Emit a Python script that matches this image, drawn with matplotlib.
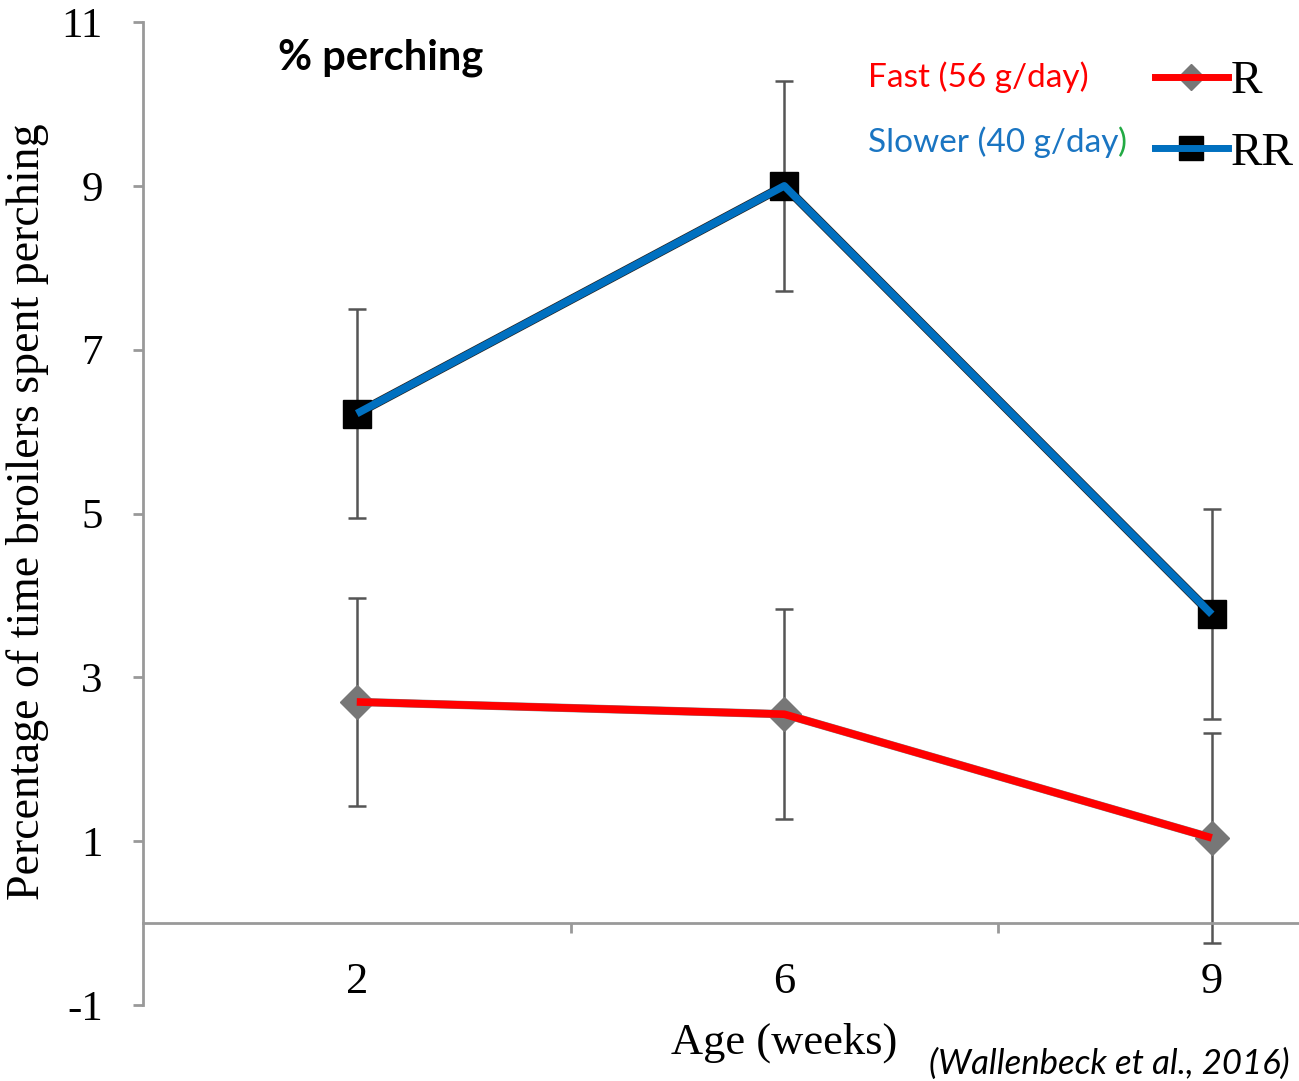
import matplotlib
matplotlib.use("Agg")
import matplotlib.pyplot as plt
from matplotlib.lines import Line2D
from matplotlib.legend_handler import HandlerTuple

# ---- data ----
ages = ["2", "6", "9"]
rr_mean = [6.22, 9.00, 3.77]
rr_err = [1.28, 1.28, 1.28]
r_mean = [2.70, 2.55, 1.04]
r_err = [1.27, 1.28, 1.28]
yticks = [-1, 1, 3, 5, 7, 9, 11]

fig = plt.figure(figsize=(12.99, 10.81), dpi=100)
ax = fig.add_axes([0.1101, 0.0703, 0.8899, 0.9093])

xpos = [i + 0.5 for i in range(len(ages))]
ax.set_xlim(0, 2.704)
ax.set_ylim(-1, 11)

serif = "Liberation Serif"
ecol = "#555555"

# error bars
ax.errorbar(xpos, rr_mean, yerr=rr_err, fmt="none", ecolor=ecol, elinewidth=1.8,
            capsize=6.5, capthick=1.8, zorder=2)
ax.errorbar(xpos, r_mean, yerr=r_err, fmt="none", ecolor=ecol, elinewidth=1.8,
            capsize=6.5, capthick=1.8, zorder=2)

# base series lines (black / grey) with markers
ax.plot(xpos, rr_mean, color="#222222", lw=6.5, marker="s", markersize=20,
        markerfacecolor="black", markeredgecolor="black", zorder=3)
ax.plot(xpos, r_mean, color="#888888", lw=6, marker="D", markersize=17,
        markerfacecolor="#777777", markeredgecolor="#777777", zorder=3)
# coloured overlay lines
ax.plot(xpos, rr_mean, color="#0070C0", lw=5.5, solid_capstyle="butt", zorder=4)
ax.plot(xpos, r_mean, color="#FF0000", lw=5.5, solid_capstyle="butt", zorder=4)

# spines
for s in ["top", "right"]:
    ax.spines[s].set_visible(False)
ax.spines["bottom"].set_position(("data", 0))
ax.spines["bottom"].set_color("#999999")
ax.spines["bottom"].set_linewidth(2)
ax.spines["left"].set_color("#999999")
ax.spines["left"].set_linewidth(2)

ax.set_yticks(yticks)
ax.set_yticklabels([str(v) for v in yticks], fontfamily=serif, fontsize=31)
ax.tick_params(axis="y", direction="out", length=7, width=2, color="#999999", pad=22)
ax.set_xticks([1, 2])
ax.set_xticklabels([])
ax.tick_params(axis="x", direction="out", length=7, width=2, color="#999999")

for x, lab in zip(xpos, ages):
    ax.text(x, -0.47, lab, ha="center", va="top", fontfamily=serif, fontsize=32)

fig.text(0.604, 0.035, "Age (weeks)", ha="center", va="center", fontfamily=serif, fontsize=32)
fig.text(0.021, 0.527, "Percentage of time broilers spent perching", rotation=90,
         ha="center", va="center", fontfamily=serif, fontsize=33)

fig.text(0.214, 0.947, "% perching", ha="left", va="center", fontfamily="Lato",
         fontweight="bold", fontsize=30)

# legend
h_r = (Line2D([], [], color="#888888", lw=4, marker="D", markersize=13,
              markerfacecolor="#777777", markeredgecolor="#777777"),
       Line2D([], [], color="#FF0000", lw=5))
h_rr = (Line2D([], [], color="black", lw=4, marker="s", markersize=17,
               markerfacecolor="black", markeredgecolor="black"),
        Line2D([], [], color="#0070C0", lw=5))
leg = fig.legend([h_r, h_rr], ["R", "RR"], loc="upper right",
                 bbox_to_anchor=(1.021, 0.975), frameon=False,
                 handler_map={tuple: HandlerTuple(ndivide=1, pad=0)},
                 prop={"family": serif, "size": 34}, handlelength=1.55,
                 handletextpad=0.05, labelspacing=0.6, borderpad=0.2)

fig.text(0.668, 0.929, "Fast (56 g/day)", ha="left", va="center", fontfamily="Lato",
         fontsize=24, color="#FF0000")
t = fig.text(0.668, 0.868, "Slower (40 g/day", ha="left", va="center", fontfamily="Lato",
             fontsize=24, color="#1A75C2")
fig.canvas.draw()
bb = t.get_window_extent()
fig.text(bb.x1 / fig.bbox.width, 0.868, ")", ha="left", va="center", fontfamily="Lato",
         fontsize=24, color="#22AA44")

fig.text(0.993, 0.016, "(Wallenbeck et al., 2016)", ha="right", va="center",
         fontfamily="Lato", fontstyle="italic", fontsize=25)

fig.savefig("out.png", dpi=100)
